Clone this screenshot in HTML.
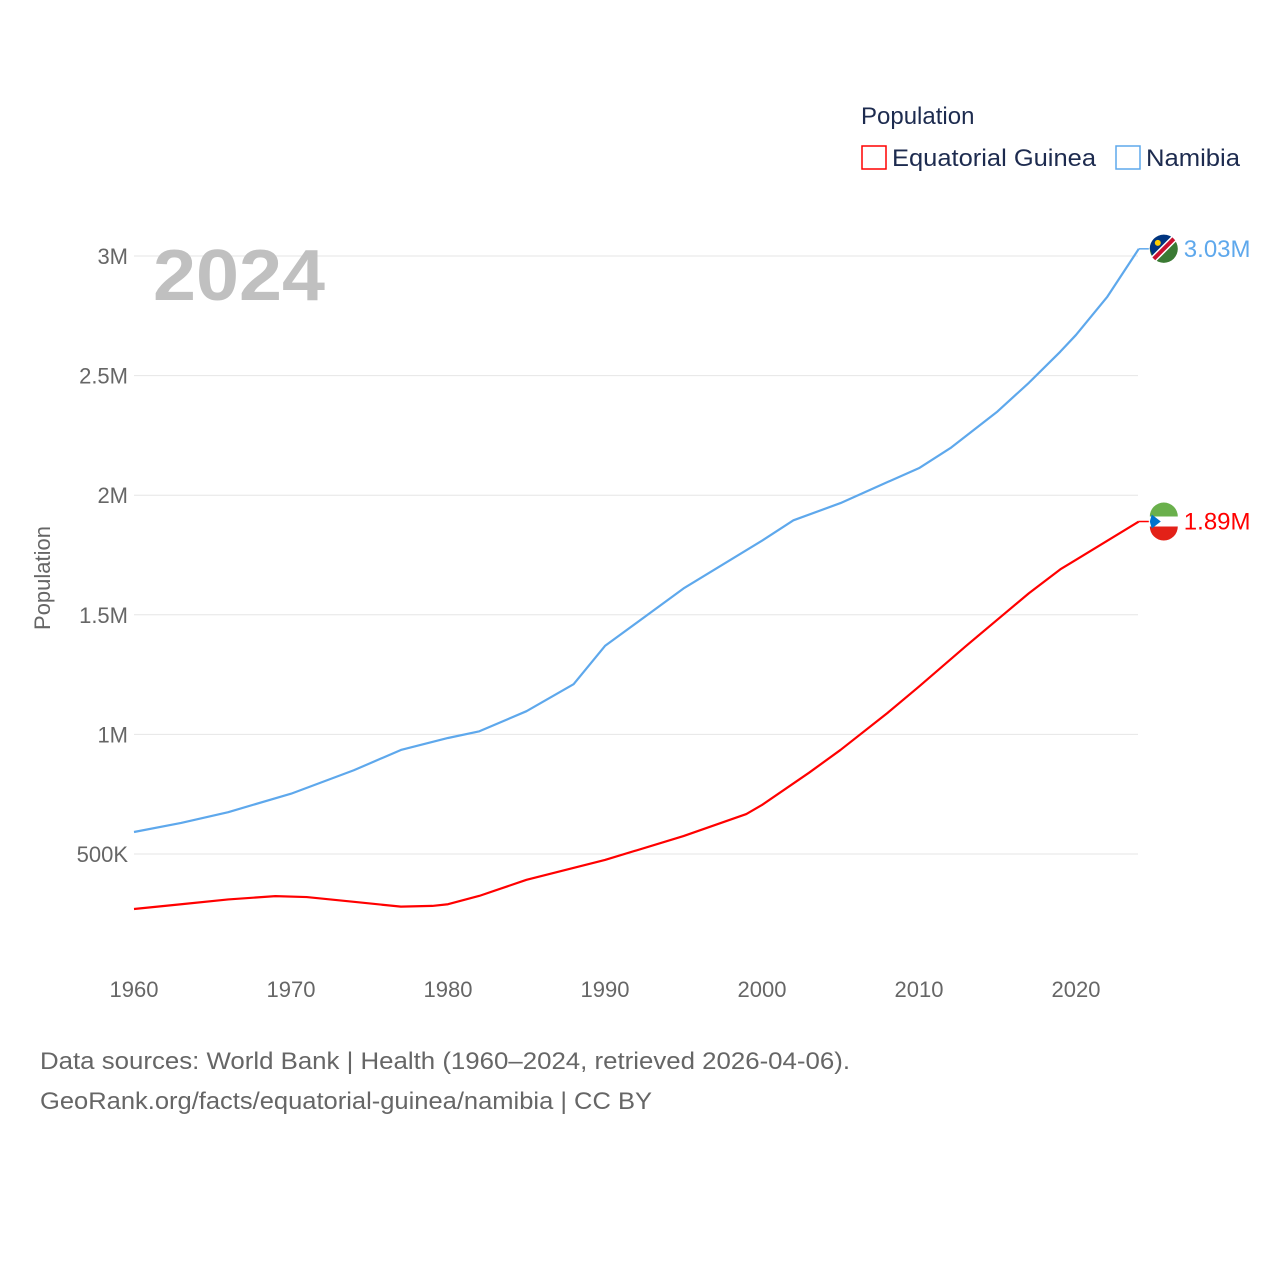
<!DOCTYPE html>
<html><head><meta charset="utf-8"><style>
body{margin:0;background:#fff;font-family:"Liberation Sans",sans-serif;}
svg text{font-family:"Liberation Sans",sans-serif;}
</style></head><body>
<svg width="1280" height="1280">
<text x="861" y="124" font-size="24" fill="#1d2b4f">Population</text>
<g><rect x="862" y="146" width="24" height="23" fill="none" stroke="#ff0000" stroke-width="1.5"/><text x="892" y="166" font-size="24" fill="#1d2b4f" textLength="204" lengthAdjust="spacingAndGlyphs">Equatorial Guinea</text></g>
<g><rect x="1116" y="146" width="24" height="23" fill="none" stroke="#5ea8ec" stroke-width="1.5"/><text x="1146" y="166" font-size="24" fill="#1d2b4f" textLength="94" lengthAdjust="spacingAndGlyphs">Namibia</text></g>
<g id="grid"></g>
<text x="153" y="300" font-size="72" font-weight="bold" fill="#c0c0c0" textLength="172" lengthAdjust="spacingAndGlyphs">2024</text>
<text transform="translate(50,578) rotate(-90)" text-anchor="middle" font-size="22" fill="#666">Population</text>
<g id="series"></g>
<text x="40" y="1069" font-size="24" fill="#666" textLength="810" lengthAdjust="spacingAndGlyphs">Data sources: World Bank | Health (1960–2024, retrieved 2026-04-06).</text>
<text x="40" y="1109" font-size="24" fill="#666" textLength="612" lengthAdjust="spacingAndGlyphs">GeoRank.org/facts/equatorial-guinea/namibia | CC BY</text>
</svg>
<script>
const yTicks=[0.5,1,1.5,2,2.5,3];
const yTickLabels=["500K","1M","1.5M","2M","2.5M","3M"];
const xTicks=[1960,1970,1980,1990,2000,2010,2020];
const namYears=[1960,1963,1966,1970,1974,1977,1980,1982,1985,1988,1990,1995,2000,2002,2005,2008,2010,2012,2015,2017,2019,2020,2022,2023,2024];
const namVals=[0.592,0.63,0.675,0.752,0.85,0.935,0.985,1.013,1.097,1.21,1.37,1.61,1.81,1.895,1.967,2.055,2.113,2.197,2.35,2.47,2.60,2.67,2.83,2.93,3.03];
const eqgYears=[1960,1963,1966,1969,1971,1974,1977,1979,1980,1982,1985,1990,1995,1999,2000,2003,2005,2008,2010,2013,2015,2017,2019,2020,2022,2024];
const eqgVals=[0.27,0.29,0.31,0.324,0.32,0.3,0.28,0.283,0.29,0.325,0.392,0.475,0.575,0.667,0.705,0.84,0.935,1.09,1.20,1.37,1.48,1.59,1.69,1.73,1.81,1.89];
const X=y=>134+(y-1960)*15.7;
const Y=v=>973.6-v*239.2;
const ns="http://www.w3.org/2000/svg";
const grid=document.getElementById('grid'),ser=document.getElementById('series');
function mk(t,a,p){const e=document.createElementNS(ns,t);for(const k in a)e.setAttribute(k,a[k]);p.appendChild(e);return e;}
yTicks.forEach((v,i)=>{
 const l=mk('line',{x1:134,x2:1138,y1:Y(v),y2:Y(v),stroke:'#e6e6e6','stroke-width':1},grid);
 
 
 const t=mk('text',{x:128,y:Y(v)+8,'text-anchor':'end','font-size':22,fill:'#666'},grid);
 t.textContent=yTickLabels[i];
 
 
});
xTicks.forEach(y=>{
 const t=mk('text',{x:X(y),y:997,'text-anchor':'middle','font-size':22,fill:'#666'},grid);
 t.textContent=y;
 
 
});
function line(yrs,vals,col,name,lab,flag){
 const p=mk('polyline',{points:yrs.map((y,i)=>X(y)+','+Y(vals[i])).join(' '),fill:'none',stroke:col,'stroke-width':2.2,'stroke-linejoin':'round'},ser);
 
 
 const lx=X(yrs[yrs.length-1]),ly=Y(vals[vals.length-1]);
 mk('line',{x1:lx,x2:lx+10,y1:ly,y2:ly,stroke:col,'stroke-width':1.5},ser);
 const g=mk('g',{},ser);
 
 
 flag(g,lx+25,ly);
 const t=mk('text',{x:lx+45,y:ly+8,'font-size':24,fill:col},ser);
 t.textContent=lab;
 
 
}
line(namYears,namVals,'#5ea8ec','namibia','3.03M',(g,cx,cy)=>{
 mk('circle',{cx,cy,r:14,fill:'#3a7a33'},g);
 mk('path',{d:`M${cx-14},${cy} A14,14 0 0 1 ${cx+10},${cy-10} L${cx-10},${cy+10}Z`,fill:'#003580'},g);
 mk('line',{x1:cx-10,y1:cy+10,x2:cx+10,y2:cy-10,stroke:'#fff','stroke-width':7},g);
 mk('line',{x1:cx-10,y1:cy+10,x2:cx+10,y2:cy-10,stroke:'#c8102e','stroke-width':4},g);
 mk('circle',{cx:cx-6,cy:cy-6,r:3,fill:'#ffce00'},g);
});
line(eqgYears,eqgVals,'#ff0000','equatorial-guinea','1.89M',(g,cx,cy)=>{
 mk('circle',{cx,cy,r:14,fill:'#fff'},g);
 mk('path',{d:`M${cx-14},${cy-5} A14,14 0 0 1 ${cx+14},${cy-5}Z`,fill:'#6ab04c'},g);
 mk('path',{d:`M${cx-14},${cy+5} A14,14 0 0 0 ${cx+14},${cy+5}Z`,fill:'#e32118'},g);
 mk('path',{d:`M${cx-14},${cy} L${cx-12},${cy-7} L${cx-3},${cy} L${cx-12},${cy+7}Z`,fill:'#0073ce'},g);
});
</script>
</body></html>
